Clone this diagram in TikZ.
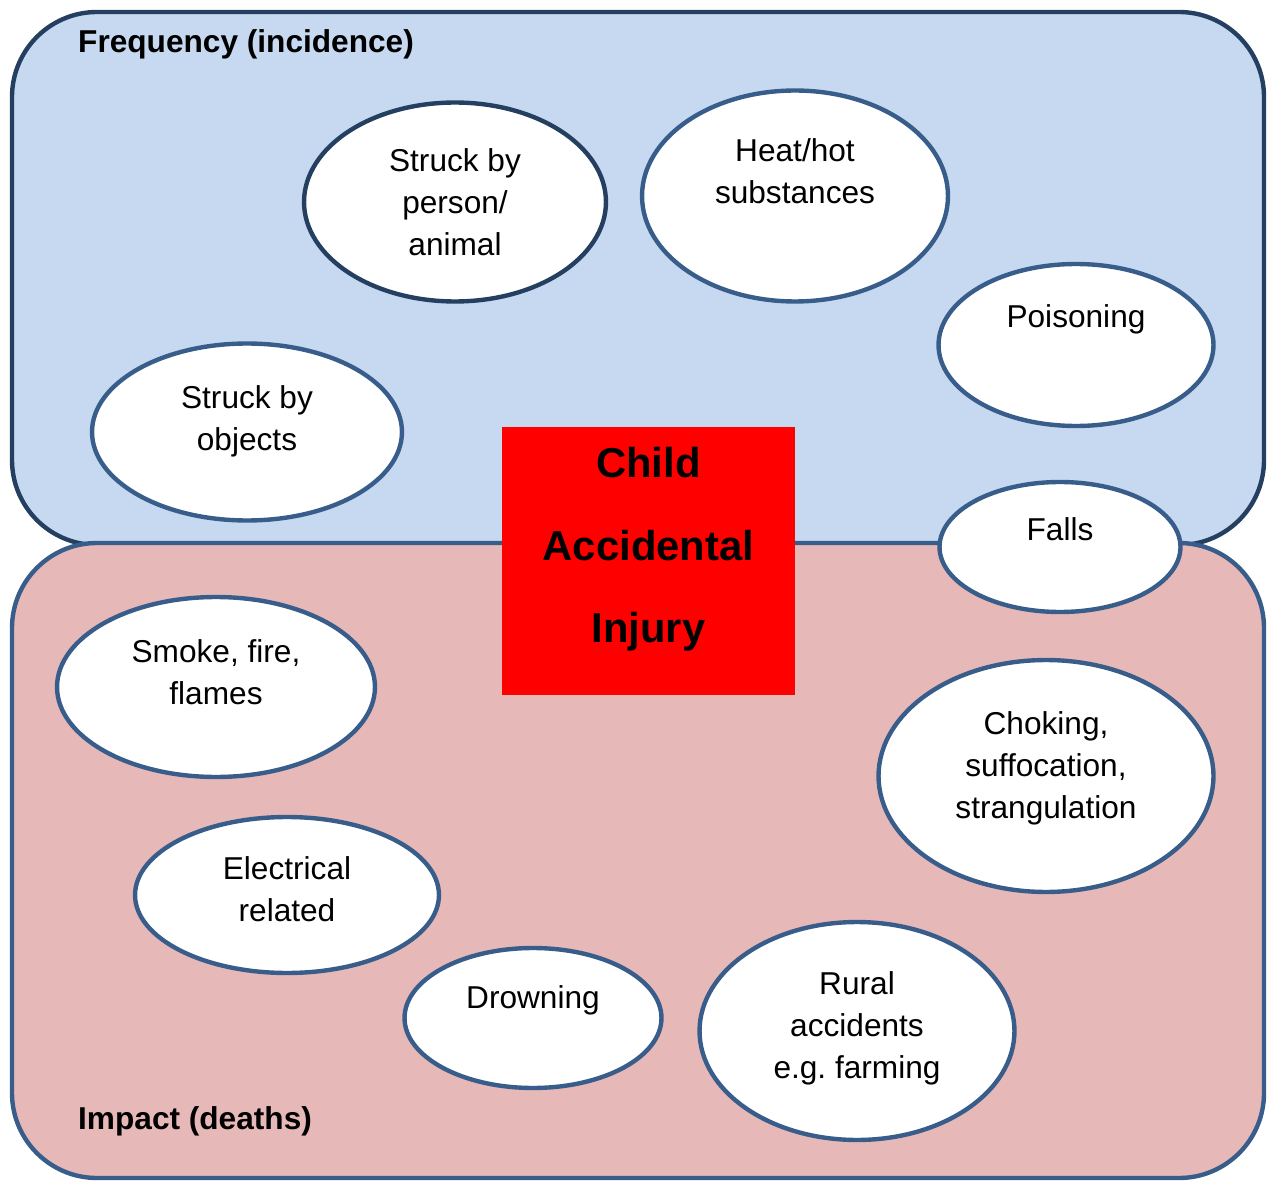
\documentclass[tikz,border=0pt]{standalone}
\usepackage{fontspec}
\setmainfont{Liberation Sans}
\usetikzlibrary{positioning,shapes.geometric}
\definecolor{freqfill}{HTML}{C6D9F1}
\definecolor{impactfill}{HTML}{E6B9B8}
\definecolor{navy}{HTML}{243F60}
\definecolor{steel}{HTML}{385D8A}
\frenchspacing

\begin{document}
\begin{tikzpicture}[x=0.02cm, y=-0.02cm, line width=2.5pt,
                    every node/.style={font=\fontsize{18}{23.8}\selectfont},
                    zone/.style={rounded corners=1.7cm},
                    hazard/.style={ellipse, draw=steel, fill=white, inner sep=0pt},
                    hazardtext/.style={align=center, inner sep=0pt, anchor=north},
                    zonetitle/.style={anchor=west, inner sep=0pt, font=\fontsize{18}{23.8}\selectfont\bfseries}]

\useasboundingbox (0,0) rectangle (1275,1182);

% the two zones
\draw[zone, draw=navy, fill=freqfill] (12,12) rectangle (1264,545);
\draw[zone, draw=steel, fill=impactfill] (12,543) rectangle (1264,1178);

\node[zonetitle] (freq) at (76,44) {Frequency (incidence)};
\node[zonetitle] (impact) at (76,1121) {Impact (deaths)};

% centre box
\node[rectangle, fill=red, minimum width=5.86cm, minimum height=5.36cm, inner sep=0pt] (core) at (648.5,561) {};
\node[align=center, inner sep=0pt, anchor=north, below=0.41cm of core.north,
      font=\fontsize{23.8}{47}\selectfont\bfseries] (coretxt) {Child\\Accidental\\Injury};

% frequency hazards
\node[hazard, draw=navy, minimum width=6.04cm, minimum height=3.98cm] (person) at (455,202) {};
\node[hazardtext, below=0.93cm of person.north] (persontxt) {Struck by\\person/\\animal};

\node[hazard, minimum width=6.12cm, minimum height=4.22cm] (heat) at (795,196) {};
\node[hazardtext, below=0.97cm of heat.north] (heattxt) {Heat/hot\\substances};

\node[hazard, minimum width=5.5cm, minimum height=3.24cm] (poison) at (1076,345) {};
\node[hazardtext, below=0.81cm of poison.north] (poisontxt) {Poisoning};

\node[hazard, minimum width=6.2cm, minimum height=3.54cm] (objects) at (247,432) {};
\node[hazardtext, below=0.85cm of objects.north] (objectstxt) {Struck by\\objects};

\node[hazard, minimum width=4.82cm, minimum height=2.6cm] (falls) at (1060,547) {};
\node[hazardtext, below=0.71cm of falls.north] (fallstxt) {Falls};

% impact hazards
\node[hazard, minimum width=6.36cm, minimum height=3.6cm] (smoke) at (216,687) {};
\node[hazardtext, below=0.85cm of smoke.north] (smoketxt) {Smoke, fire,\\flames};

\node[hazard, minimum width=6.7cm, minimum height=4.64cm] (choking) at (1046,776) {};
\node[hazardtext, below=1.03cm of choking.north] (chokingtxt) {Choking,\\suffocation,\\strangulation};

\node[hazard, minimum width=6.08cm, minimum height=3.12cm] (electric) at (287,895) {};
\node[hazardtext, below=0.79cm of electric.north] (electrictxt) {Electrical\\related};

\node[hazard, minimum width=5.14cm, minimum height=2.8cm] (drowning) at (533,1018) {};
\node[hazardtext, below=0.75cm of drowning.north] (drowningtxt) {Drowning};

\node[hazard, minimum width=6.3cm, minimum height=4.36cm] (rural) at (857,1031) {};
\node[hazardtext, below=0.99cm of rural.north] (ruraltxt) {Rural\\accidents\\e.g. farming};
\end{tikzpicture}
\end{document}
